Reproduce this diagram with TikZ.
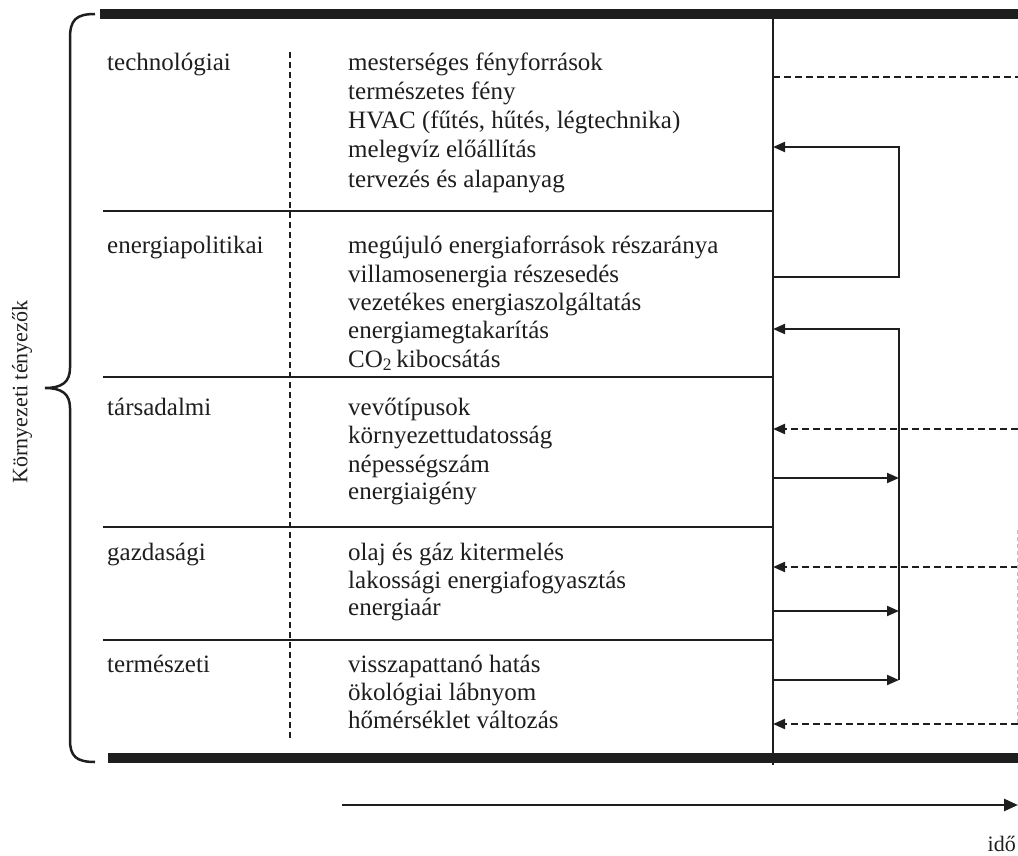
\documentclass[tikz,border=0pt]{standalone}
\usepackage{fontspec}
\setmainfont{Liberation Serif}
\usetikzlibrary{arrows.meta}
\definecolor{ink}{RGB}{30,30,30}
\definecolor{faint}{RGB}{190,190,190}
\begin{document}
\begin{tikzpicture}[x=1pt,y=-1pt,
  every node/.style={text=ink},
  item/.style={anchor=base west, inner sep=0pt, font=\fontsize{25}{28}\selectfont},
  catlabel/.style={anchor=base west, inner sep=0pt, font=\fontsize{25}{28}\selectfont},
  rowrule/.style={draw=ink, line width=1.5pt},
  bar/.style={draw=ink, line width=10pt},
  colsep/.style={draw=ink, line width=1.4pt, dash pattern=on 6pt off 4pt},
  link/.style={draw=ink, line width=2pt},
  dlink/.style={draw=ink, line width=2pt, dash pattern=on 7pt off 4pt},
  tip/.style={-{Triangle[length=12pt,width=10pt]}},
]
\useasboundingbox (0,0) rectangle (1018,856);

% frame bars and main vertical divider
\coordinate (barTL) at (100,14.5);
\coordinate (barTR) at (1018,14.5);
\coordinate (barBL) at (108,758);
\coordinate (barBR) at (1018,758);
\draw[bar] (barTL) -- (barTR);
\draw[bar] (barBL) -- (barBR);
\coordinate (vTop) at (773,14);
\coordinate (vBot) at (773,765);
\draw[rowrule] (vTop) -- (vBot);

% row separators
\foreach \y/\n in {211/a,377/b,527/c,640/d}{
  \coordinate (rs\n) at (103,\y);
  \coordinate (re\n) at (773,\y);
  \draw[rowrule] (rs\n) -- (re\n);
}
% dashed column separator
\coordinate (cTop) at (290,52);
\coordinate (cBot) at (290,738);
\draw[colsep] (cTop) -- (cBot);

% brace
\draw[draw=ink, line width=2.5pt]
  (95,14) .. controls (76,14) and (70,20) .. (70,38) -- (70,368)
  .. controls (70,382) and (62,388) .. (45,388)
  .. controls (62,388) and (70,394) .. (70,408) -- (70,740)
  .. controls (70,756) and (76,762) .. (95,762);
\node[rotate=90, inner sep=0pt, font=\fontsize{22}{24}\selectfont] (side) at (22,392) {Környezeti tényezők};

% category labels
\node[catlabel] (cat1) at (107,71) {technológiai};
\node[catlabel] (cat2) at (107,253) {energiapolitikai};
\node[catlabel] (cat3) at (107,415) {társadalmi};
\node[catlabel] (cat4) at (107,560) {gazdasági};
\node[catlabel] (cat5) at (107,672) {természeti};

% items
\node[item] (i11) at (348,71) {mesterséges fényforrások};
\node[item] (i12) at (348,100) {természetes fény};
\node[item] (i13) at (348,129) {HVAC (fűtés, hűtés, légtechnika)};
\node[item] (i14) at (348,158) {melegvíz előállítás};
\node[item] (i15) at (348,187) {tervezés és alapanyag};

\node[item] (i21) at (348,253) {megújuló energiaforrások részaránya};
\node[item] (i22) at (348,282) {villamosenergia részesedés};
\node[item] (i23) at (348,310) {vezetékes energiaszolgáltatás};
\node[item] (i24) at (348,338) {energiamegtakarítás};
\node[item] (i25) at (348,367) {CO\textsubscript{2}\,kibocsátás};

\node[item] (i31) at (348,415) {vevőtípusok};
\node[item] (i32) at (348,443) {környezettudatosság};
\node[item] (i33) at (348,472) {népességszám};
\node[item] (i34) at (348,499) {energiaigény};

\node[item] (i41) at (348,560) {olaj és gáz kitermelés};
\node[item] (i42) at (348,588) {lakossági energiafogyasztás};
\node[item] (i43) at (348,615) {energiaár};

\node[item] (i51) at (348,672) {visszapattanó hatás};
\node[item] (i52) at (348,700) {ökológiai lábnyom};
\node[item] (i53) at (348,728) {hőmérséklet változás};

% feedback connectors on the right
\coordinate (d0a) at (773,77);   \coordinate (d0b) at (1018,77);
\draw[dlink] (d0a) -- (d0b);

\coordinate (l1s) at (773,277); \coordinate (l1c) at (899,277);
\coordinate (l1u) at (899,147); \coordinate (l1e) at (773,147);
\draw[link,tip] (l1s) -- (l1c) -- (l1u) -- (l1e);

\coordinate (l2b) at (899,680); \coordinate (l2u) at (899,329);
\coordinate (l2e) at (773,329);
\draw[link,tip] (l2b) -- (l2u) -- (l2e);

\foreach \y/\n in {478/a,611/b,680/c}{
  \coordinate (rs\n) at (773,\y);
  \coordinate (rt\n) at (899,\y);
  \draw[link,tip] (rs\n) -- (rt\n);
}
\foreach \y/\n in {429/a,567/b,724/c}{
  \coordinate (ds\n) at (1018,\y);
  \coordinate (dt\n) at (773,\y);
  \draw[dlink,tip] (ds\n) -- (dt\n);
}
\coordinate (fa) at (1017,530); \coordinate (fb) at (1017,724);
\draw[draw=faint, line width=1pt, dash pattern=on 4pt off 3pt] (fa) -- (fb);

% time axis
\coordinate (tA) at (342,805); \coordinate (tB) at (1018,805);
\draw[draw=ink, line width=2.5pt, -{Triangle[length=14pt,width=12pt]}] (tA) -- (tB);
\node[anchor=base east, inner sep=0pt, font=\fontsize{22}{24}\selectfont] (ido) at (1016,851) {idő};
\end{tikzpicture}
\end{document}
